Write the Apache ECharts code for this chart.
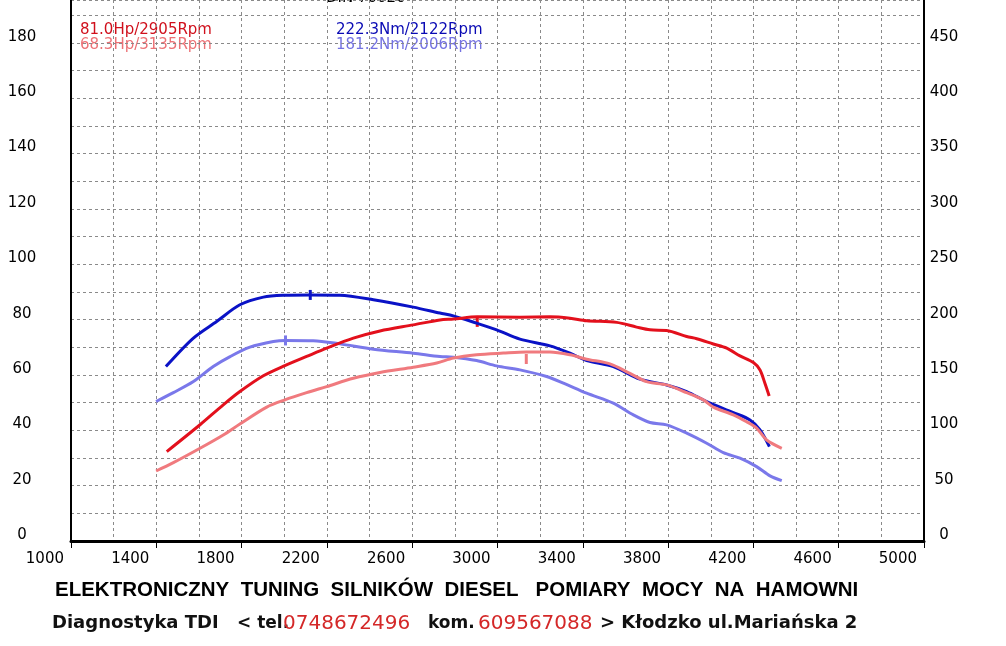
<!DOCTYPE html>
<html>
<head>
<meta charset="utf-8">
<script src="https://cdn.jsdelivr.net/npm/echarts@6/dist/echarts.min.js"></script>
<style>
  html, body { margin: 0; padding: 0; background: #fff; }
  #main { width: 1006px; height: 646px; }
</style>
</head>
<body>
<div id="main"></div>
<script>
// dyno run: tuned vs stock, power (Hp, left axis) and torque (Nm, right axis)
var tunedPowerRpm = [1449, 1605, 1714, 1792, 1902, 2003, 2105, 2199, 2324, 2449, 2605, 2730, 2793, 2905, 3105, 3246, 3340, 3418, 3559, 3652, 3715, 3793, 3887, 3934, 4012, 4075, 4137, 4200, 4231, 4254, 4274];
var tunedPowerHp = [32.3, 42, 49.2, 54, 59.7, 63.4, 66.7, 69.7, 73.3, 75.9, 78.1, 79.9, 80.2, 81.0, 80.9, 81.0, 80.5, 79.6, 79.0, 77.3, 76.3, 76.1, 73.9, 73.1, 71.2, 69.7, 66.9, 64.5, 61.8, 57, 52.4];

var stockPowerRpm = [1399, 1480, 1605, 1714, 1792, 1918, 2003, 2105, 2199, 2324, 2449, 2605, 2715, 2793, 2902, 3027, 3135, 3246, 3340, 3418, 3527, 3621, 3699, 3793, 3887, 3965, 4012, 4106, 4168, 4215, 4262, 4333];
var stockPowerHp = [25.3, 28.3, 33.5, 38.3, 42.3, 48.4, 51, 53.6, 55.8, 58.8, 60.9, 62.8, 64.3, 66.1, 67.3, 67.9, 68.3, 68.3, 67.3, 65.7, 64, 60.6, 57.6, 56.4, 53.6, 51, 48.4, 45.6, 43.1, 40.8, 36.5, 33.5];

var tunedTorqueRpm = [1445, 1574, 1683, 1792, 1902, 2003, 2122, 2261, 2418, 2605, 2730, 2793, 2902, 2996, 3105, 3246, 3340, 3418, 3543, 3668, 3793, 3887, 3981, 4106, 4184, 4231, 4275];
var tunedTorqueNm = [157.6, 183.3, 198.3, 213.4, 220.3, 222, 222.3, 222, 217.9, 211.3, 205.9, 203.4, 196.8, 190.8, 182.4, 176.3, 169.7, 163, 157.6, 146.2, 141, 135, 126, 116, 109.4, 100.4, 85.3];

var stockTorqueRpm = [1399, 1480, 1574, 1667, 1746, 1839, 1949, 2006, 2136, 2261, 2418, 2605, 2730, 2793, 2902, 2996, 3105, 3230, 3309, 3418, 3543, 3637, 3715, 3793, 3887, 3981, 4059, 4137, 4215, 4278, 4333];
var stockTorqueNm = [126, 134, 144, 157.6, 166.6, 175.1, 180.2, 181.2, 181, 178.1, 173.3, 169.7, 166.6, 166.1, 163, 158.2, 154.6, 148.6, 142.6, 133.5, 124.5, 113.9, 107, 104.9, 97.4, 88.3, 79.8, 74.8, 67.2, 58.8, 54.5];

// peaks: [rpm, value]
var tunedPowerPeak = [2905, 81.0];
var stockPowerPeak = [3135, 68.3];
var tunedTorquePeak = [2122, 222.3];
var stockTorquePeak = [2006, 181.2];

var peakLabels = ['81.0Hp/2905Rpm', '68.3Hp/3135Rpm', '222.3Nm/2122Rpm', '181.2Nm/2006Rpm'];
var footerTitle = 'ELEKTRONICZNY  TUNING  SILNIKÓW  DIESEL   POMIARY  MOCY  NA  HAMOWNI';

var RED = '#e3101c', PINK = '#f07a7e', BLUE = '#0a12c6', LILAC = '#7a78ea';
var FONT = 'DejaVu Sans';

function pairs(xs, ys) {
    return xs.map(function (x, i) { return [x, ys[i]]; });
}

function curve(name, color, yIdx, data, peak, dy) {
    return {
        name: name,
        type: 'line',
        yAxisIndex: yIdx,
        data: data,
        showSymbol: false,
        smooth: 0.3,
        lineStyle: { color: color, width: 3 },
        z: 5,
        markPoint: {
            silent: true,
            symbol: 'rect',
            symbolSize: [3, 10],
            symbolOffset: [0, dy],
            itemStyle: { color: color },
            label: { show: false },
            data: [{ coord: peak }]
        }
    };
}

var gridLine = { show: true, lineStyle: { color: '#8a8a8a', type: [3, 3], width: 1 } };

var option = {
    animation: false,
    backgroundColor: '#fff',
    grid: { left: 71, right: 82, top: 0, bottom: 105 },
    xAxis: [{
        type: 'value', min: 1000, max: 5000, interval: 200,
        axisLine: { show: true, lineStyle: { color: '#000', width: 3 } },
        axisTick: { show: false },
        axisLabel: { show: false },
        splitLine: gridLine
    }, {
        type: 'value', min: 1000, max: 5000, interval: 400, position: 'bottom',
        axisLine: { show: false },
        axisTick: { show: true, length: 7, lineStyle: { color: '#000', width: 1 } },
        splitLine: { show: false },
        axisLabel: {
            margin: 11, align: 'right', padding: [0, 7, 0, 0],
            color: '#000', fontFamily: FONT, fontSize: 15,
            formatter: function (v) { return String(v); }
        }
    }],
    yAxis: [{
        type: 'value', min: 0, max: 195.5, interval: 10,
        axisLine: { show: true, lineStyle: { color: '#000', width: 2 } },
        axisTick: { show: false },
        splitLine: gridLine,
        axisLabel: {
            margin: 49, align: 'center', verticalAlign: 'bottom', lineHeight: 12,
            color: '#000', fontFamily: FONT, fontSize: 15,
            showMaxLabel: false,
            formatter: function (v) { return v % 20 === 0 ? String(v) : ''; }
        }
    }, {
        type: 'value', min: 0, max: 488.75, interval: 25, position: 'right',
        axisLine: { show: true, lineStyle: { color: '#000', width: 2 } },
        axisTick: { show: false },
        splitLine: { show: false },
        axisLabel: {
            margin: 20, align: 'center', verticalAlign: 'bottom', lineHeight: 12,
            color: '#000', fontFamily: FONT, fontSize: 15,
            showMaxLabel: false,
            formatter: function (v) { return v % 50 === 0 ? String(v) : ''; }
        }
    }],
    series: [
        curve('Tuned torque', BLUE, 1, pairs(tunedTorqueRpm, tunedTorqueNm), tunedTorquePeak, 0),
        curve('Stock torque', LILAC, 1, pairs(stockTorqueRpm, stockTorqueNm), stockTorquePeak, 0),
        curve('Stock power', PINK, 0, pairs(stockPowerRpm, stockPowerHp), stockPowerPeak, 7),
        curve('Tuned power', RED, 0, pairs(tunedPowerRpm, tunedPowerHp), tunedPowerPeak, 5)
    ],
    graphic: [
        { type: 'text', x: 326, y: 6, style: { text: 'DIN 70020', x: 0, y: 0, verticalAlign: 'bottom', font: '15px "DejaVu Sans"', fill: '#000' } },
        { type: 'text', left: 80, top: 23, style: { text: peakLabels[0], font: '15px "DejaVu Sans"', fill: '#d0101c' } },
        { type: 'text', left: 80, top: 38, style: { text: peakLabels[1], font: '15px "DejaVu Sans"', fill: '#ec7276' } },
        { type: 'text', left: 336, top: 23, style: { text: peakLabels[2], font: '15px "DejaVu Sans"', fill: '#0a0ab4' } },
        { type: 'text', left: 336, top: 38, style: { text: peakLabels[3], font: '15px "DejaVu Sans"', fill: '#7472e2' } },
        { type: 'text', left: 55, top: 580, style: { text: footerTitle, font: 'bold 20.5px "Liberation Sans"', fill: '#000' } },
        { type: 'text', left: 52, top: 614, style: { text: 'Diagnostyka TDI', font: 'bold 18px "DejaVu Sans"', fill: '#111' } },
        { type: 'text', left: 237, top: 615, style: { text: '< tel.', font: 'bold 17px "DejaVu Sans"', fill: '#111' } },
        { type: 'text', left: 283, top: 614, style: { text: '0748672496', font: '20px "DejaVu Sans"', fill: '#d42828' } },
        { type: 'text', left: 428, top: 615, style: { text: 'kom.', font: 'bold 17px "DejaVu Sans"', fill: '#111' } },
        { type: 'text', left: 478, top: 614, style: { text: '609567088', font: '20px "DejaVu Sans"', fill: '#d42828' } },
        { type: 'text', left: 600, top: 614, style: { text: '> Kłodzko ul.Mariańska 2', font: 'bold 18px "DejaVu Sans"', fill: '#111' } }
    ]
};

var myChart = echarts.init(document.getElementById('main'));
myChart.setOption(option);
</script>
</body>
</html>
